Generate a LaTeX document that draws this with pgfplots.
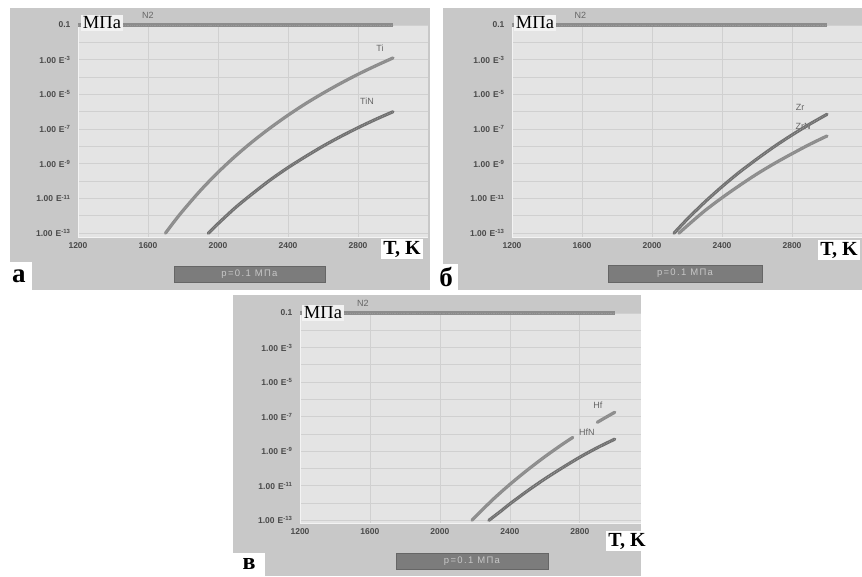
\documentclass[border=0pt]{standalone}
\usepackage{pgfplots}
\usepackage{pgfplotstable}
\pgfplotsset{compat=1.18}
\usepackage{fontspec}
\setmainfont{Liberation Sans}
\newfontfamily\tnr{Liberation Serif}
\usetikzlibrary{calc}

\definecolor{framegray}{HTML}{C8C8C8}
\definecolor{plotbg}{HTML}{E4E4E4}
\definecolor{gridgray}{HTML}{D0D0D0}
\definecolor{ticktext}{HTML}{4A4A4A}
\definecolor{curvelight}{HTML}{8C8C8C}
\definecolor{curvedark}{HTML}{707070}
\definecolor{bargray}{HTML}{7C7C7C}
\definecolor{labelbox}{HTML}{F2F2F2}

% saturated vapour pressure, MPa, versus temperature, K
\pgfplotstableread{
T p
1200 0.1
3000 0.1
}\nitrogen
\pgfplotstableread{
T p
1700 1.0e-13
1750 4.7e-13
1800 2.0e-12
1900 2.9e-11
2000 3.2e-10
2100 2.8e-9
2200 2.0e-8
2300 1.2e-7
2400 6.3e-7
2500 2.9e-6
2600 1.17e-5
2700 4.3e-5
2800 1.44e-4
2900 4.4e-4
3000 1.26e-3
}\titanium
\pgfplotstableread{
T p
1945 1.0e-13
2000 3.5e-13
2100 3.0e-12
2200 2.0e-11
2300 1.2e-10
2400 6.0e-10
2500 2.6e-9
2600 1.04e-8
2700 3.7e-8
2800 1.2e-7
2900 3.6e-7
3000 1.0e-6
}\titaniumnitride
\pgfplotstableread{
T p
2126 1.0e-13
2200 6.2e-13
2300 6.0e-12
2400 4.8e-11
2500 3.3e-10
2600 1.9e-9
2700 1.0e-8
2800 4.6e-8
2900 1.9e-7
3000 7.1e-7
}\zirconium
\pgfplotstableread{
T p
2154 1.0e-13
2200 2.6e-13
2300 1.9e-12
2400 1.1e-11
2500 5.6e-11
2600 2.6e-10
2700 1.05e-9
2800 3.8e-9
2900 1.3e-8
3000 4.0e-8
}\zirconiumnitride
\pgfplotstableread{
T p
2183 1.0e-13
2300 1.5e-12
2400 1.2e-11
2500 8.1e-11
2600 4.8e-10
2700 2.5e-9
2760 6.3e-9
}\hafniumlow
\pgfplotstableread{
T p
2900 4.7e-8
2950 9.3e-8
3000 1.8e-7
}\hafniumhigh
\pgfplotstableread{
T p
2280 1.0e-13
2350 3.5e-13
2400 8.9e-13
2500 5.0e-12
2600 2.5e-11
2700 1.1e-10
2800 4.5e-10
2900 1.6e-9
3000 5.0e-9
}\hafniumnitride

\pgfplotsset{
  vapourpanel/.style={
    scale only axis, clip=false,
    xmin=1200, xmax=3200,
    xtick={1200,1600,2000,2400,2800},
    xticklabels={1200,1600,2000,2400,2800},
    ytick={1e-1,1e-3,1e-5,1e-7,1e-9,1e-11,1e-13},
    yticklabels={0.1,1.00\hspace{3pt}E\textsuperscript{-3},1.00\hspace{3pt}E\textsuperscript{-5},1.00\hspace{3pt}E\textsuperscript{-7},1.00\hspace{3pt}E\textsuperscript{-9},1.00\hspace{3pt}E\textsuperscript{-11},1.00\hspace{3pt}E\textsuperscript{-13}},
    minor ytick={1e-2,1e-4,1e-6,1e-8,1e-10,1e-12},
    major tick length=0pt, minor tick length=0pt,
    grid=both,
    major grid style={draw=gridgray, line width=0.7pt},
    minor grid style={draw=gridgray, line width=0.7pt},
    axis x line*=bottom, axis y line*=left,
    axis line style={draw=white!55!plotbg, line width=0.8pt, -},
    axis background/.style={fill=plotbg},
    x tick label style={font=\fontsize{8.5}{9}\selectfont\bfseries, text=ticktext, yshift=-2pt},
    y tick label style={font=\fontsize{8.5}{9}\selectfont\bfseries, text=ticktext, xshift=-4pt},
  },
}
\tikzset{
  lightcurve/.style={smooth, line width=3.2pt, line cap=round, draw=curvelight},
  darkcurve/.style={smooth, line width=3.2pt, line cap=round, draw=curvedark},
  grain/.style={smooth, line width=1pt, draw=black!40, dash pattern=on 0.6pt off 1.2pt},
  nline/.style={line width=3.4pt, draw=curvelight},
  slabel/.style={font=\fontsize{9}{9}\selectfont, text=black!60},
}

\newcommand{\unitbox}[1]{\node[fill=labelbox, inner sep=1.5pt, font=\tnr\fontsize{18.5}{18.5}\selectfont] at (#1) {МПа};}
\newcommand{\tkbox}[1]{\node[fill=white, inner sep=2pt, font=\tnr\bfseries\fontsize{20}{20}\selectfont] at (#1) {T, K};}
\newcommand{\pbar}[4]{%
  \draw[fill=bargray, draw=black!60, line width=0.6pt] (#1pt,-#2pt) rectangle (#3pt,-#4pt);
  \node[font=\fontsize{9.5}{9.5}\selectfont\addfontfeatures{LetterSpace=14}, text=black!22]
    at ($(#1pt,-#2pt)!0.5!(#3pt,-#4pt)$) {р=0.1 МПа};}

\begin{document}
\begin{tikzpicture}
\path[use as bounding box, fill=white] (0pt,0pt) rectangle (862pt,-576pt);

% panel frames
\fill[framegray] (10pt,-8pt) rectangle (430pt,-290pt);
\fill[framegray] (443pt,-8pt) rectangle (862pt,-290pt);
\fill[framegray] (233pt,-295pt) rectangle (641pt,-576pt);

% ---------- (а) Ti / TiN ----------
\begin{axis}[vapourpanel, ymode=log, ymin=6e-14, ymax=0.1,
  at={(78pt,-25pt)}, anchor=north west, width=350pt, height=212pt]
\addplot[nline, no markers] table {\nitrogen};
\addplot[grain, no markers] table {\nitrogen};
\addplot[lightcurve, no markers] table {\titanium};
\addplot[grain, no markers] table {\titanium};
\addplot[darkcurve, no markers] table {\titaniumnitride};
\addplot[grain, no markers] table {\titaniumnitride};
\node[slabel, yshift=10pt] at (axis cs:1600,0.1) {N2};
\node[slabel] at (axis cs:2926,4.7e-3) {Ti};
\node[slabel] at (axis cs:2851,4.0e-6) {TiN};
\end{axis}

% ---------- (б) Zr / ZrN ----------
\begin{axis}[vapourpanel, ymode=log, ymin=6e-14, ymax=0.1,
  at={(512pt,-25pt)}, anchor=north west, width=350pt, height=212pt]
\addplot[nline, no markers] table {\nitrogen};
\addplot[grain, no markers] table {\nitrogen};
\addplot[lightcurve, no markers] table {\zirconiumnitride};
\addplot[grain, no markers] table {\zirconiumnitride};
\node[slabel] at (axis cs:2863,1.4e-7) {ZrN};
\addplot[darkcurve, no markers] table {\zirconium};
\addplot[grain, no markers] table {\zirconium};
\node[slabel, yshift=10pt] at (axis cs:1590,0.1) {N2};
\node[slabel] at (axis cs:2846,1.8e-6) {Zr};
\end{axis}

% ---------- (в) Hf / HfN ----------
\begin{axis}[vapourpanel, ymode=log, ymin=7e-14, ymax=0.1, xmax=3150,
  at={(300pt,-313pt)}, anchor=north west, width=341pt, height=210pt]
\addplot[nline, no markers] table {\nitrogen};
\addplot[grain, no markers] table {\nitrogen};
\addplot[lightcurve, no markers] table {\hafniumlow};
\addplot[grain, no markers] table {\hafniumlow};
\addplot[lightcurve, no markers] table {\hafniumhigh};
\addplot[grain, no markers] table {\hafniumhigh};
\addplot[darkcurve, no markers] table {\hafniumnitride};
\addplot[grain, no markers] table {\hafniumnitride};
\node[slabel, yshift=10pt] at (axis cs:1560,0.1) {N2};
\node[slabel] at (axis cs:2903,4.7e-7) {Hf};
\node[slabel] at (axis cs:2840,1.26e-8) {HfN};
\end{axis}

% unit labels
\unitbox{102pt,-23pt}
\unitbox{535pt,-23pt}
\unitbox{323pt,-313pt}
\tkbox{402pt,-249pt}
\tkbox{839pt,-250pt}
\tkbox{627pt,-541pt}

% pressure bars
\pbar{174}{266}{325}{282}
\pbar{608}{265}{762}{282}
\pbar{396}{553}{548}{569}

% panel letters
\fill[white] (0pt,-262pt) rectangle (32pt,-290pt);
\node[font=\tnr\bfseries\fontsize{27}{27}\selectfont] at (19pt,-276pt) {а};
\fill[white] (430pt,-264pt) rectangle (458pt,-290pt);
\node[font=\tnr\bfseries\fontsize{27}{27}\selectfont] at (446pt,-277pt) {б};
\fill[white] (233pt,-553pt) rectangle (265pt,-576pt);
\node[font=\tnr\bfseries\fontsize{24}{24}\selectfont] at (249pt,-564pt) {в};
\end{tikzpicture}
\end{document}
